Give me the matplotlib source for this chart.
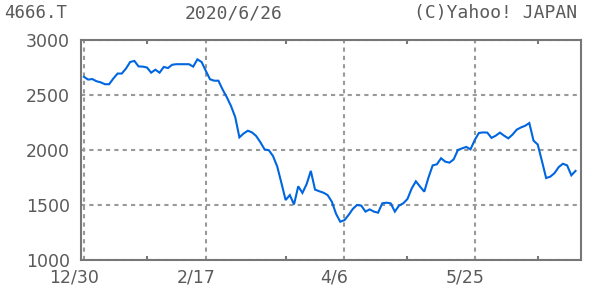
import matplotlib
matplotlib.use("Agg")
import matplotlib.pyplot as plt
import matplotlib.transforms as mtransforms
import pandas as pd

# ---- data ----
ticker = "4666.T"
date_title = "2020/6/26"
credit = "(C)Yahoo! JAPAN"

holidays = ["2019-12-31", "2020-01-01", "2020-01-02", "2020-01-03", "2020-01-13",
            "2020-02-11", "2020-02-24", "2020-03-20", "2020-04-29",
            "2020-05-04", "2020-05-05", "2020-05-06"]
dates = pd.bdate_range("2019-12-30", "2020-06-26", freq="C", holidays=holidays)

prices = [2665, 2640, 2645, 2625, 2615, 2598, 2598, 2650, 2695, 2695,
          2740, 2800, 2810, 2760, 2758, 2750, 2703, 2730, 2703, 2755,
          2745, 2775, 2780, 2780, 2780, 2780, 2758, 2824, 2800, 2720,
          2643, 2630, 2630, 2550, 2480, 2400, 2300, 2115, 2150, 2175,
          2160, 2127, 2070, 2005, 1998, 1945, 1850, 1700, 1545, 1590,
          1505, 1670, 1610, 1690, 1810, 1640, 1625, 1612, 1590, 1530,
          1420, 1348, 1362, 1410, 1465, 1500, 1495, 1440, 1460, 1440,
          1430, 1515, 1521, 1515, 1440, 1495, 1515, 1555, 1650, 1715,
          1667, 1621, 1750, 1860, 1870, 1925, 1894, 1885, 1915, 2000,
          2015, 2028, 2006, 2090, 2155, 2160, 2158, 2110, 2130, 2158,
          2130, 2106, 2140, 2185, 2205, 2220, 2245, 2085, 2050, 1900,
          1745, 1758, 1790, 1845, 1875, 1860, 1770, 1810]

major_dates = ["2019-12-30", "2020-02-17", "2020-04-06", "2020-05-25"]
major_labels = ["12/30", "2/17", "4/6", "5/25"]
minor_dates = ["2020-01-27", "2020-03-16", "2020-04-27", "2020-06-15"]
y_ticks = [1000, 1500, 2000, 2500, 3000]

# ---- plot ----
plt.rcParams["lines.scale_dashes"] = False
W, H = 600, 292
fig = plt.figure(figsize=(W / 100, H / 100), dpi=100)
ax = fig.add_axes([81 / W, (H - 260) / H, 500 / W, 220 / H])

n = min(len(dates), len(prices))
x = list(range(n))
ax.plot(x, prices[:n], color="#0066e0", lw=1.5, solid_joinstyle="miter", zorder=3)

pos = {d.strftime("%Y-%m-%d"): i for i, d in enumerate(dates)}
ax.set_xlim(-0.7, 118.3)
ax.set_ylim(1000, 3000)
ax.set_xticks([pos[d] for d in major_dates])
ax.set_xticklabels(major_labels)
ax.set_xticks([pos[d] for d in minor_dates], minor=True)
ax.set_yticks(y_ticks)
ax.set_yticklabels([str(v) for v in y_ticks])

ax.grid(True, which="major", color="#999999", lw=1.5, linestyle=(0, (3, 3)))
for sp in ax.spines.values():
    sp.set_color("#777777")
    sp.set_linewidth(1.5)

ax.tick_params(axis="x", which="major", length=0, pad=6, labelsize=12.5,
               labelcolor="#5a5a5a")
ax.tick_params(axis="x", which="minor", direction="in", length=3, width=1.5,
               color="#777777", top=True, bottom=True)
ax.tick_params(axis="y", which="major", length=0, pad=8, labelsize=12.5,
               labelcolor="#5a5a5a")

offset = mtransforms.ScaledTranslation(-10 / 100, 0, fig.dpi_scale_trans)
for lab in ax.get_xticklabels():
    lab.set_transform(lab.get_transform() + offset)

hy = 1 - 13 / H
fig.text(4 / W, hy, ticker, ha="left", va="center",
         family="DejaVu Sans Mono", fontsize=12.5, color="#5a5a5a")
fig.text(234 / W, hy, date_title, ha="center", va="center",
         family="DejaVu Sans Mono", fontsize=13, color="#5a5a5a")
fig.text(577 / W, hy, credit, ha="right", va="center",
         family="DejaVu Sans Mono", fontsize=13, color="#5a5a5a")

fig.savefig("out.png", dpi=100, facecolor="white")
